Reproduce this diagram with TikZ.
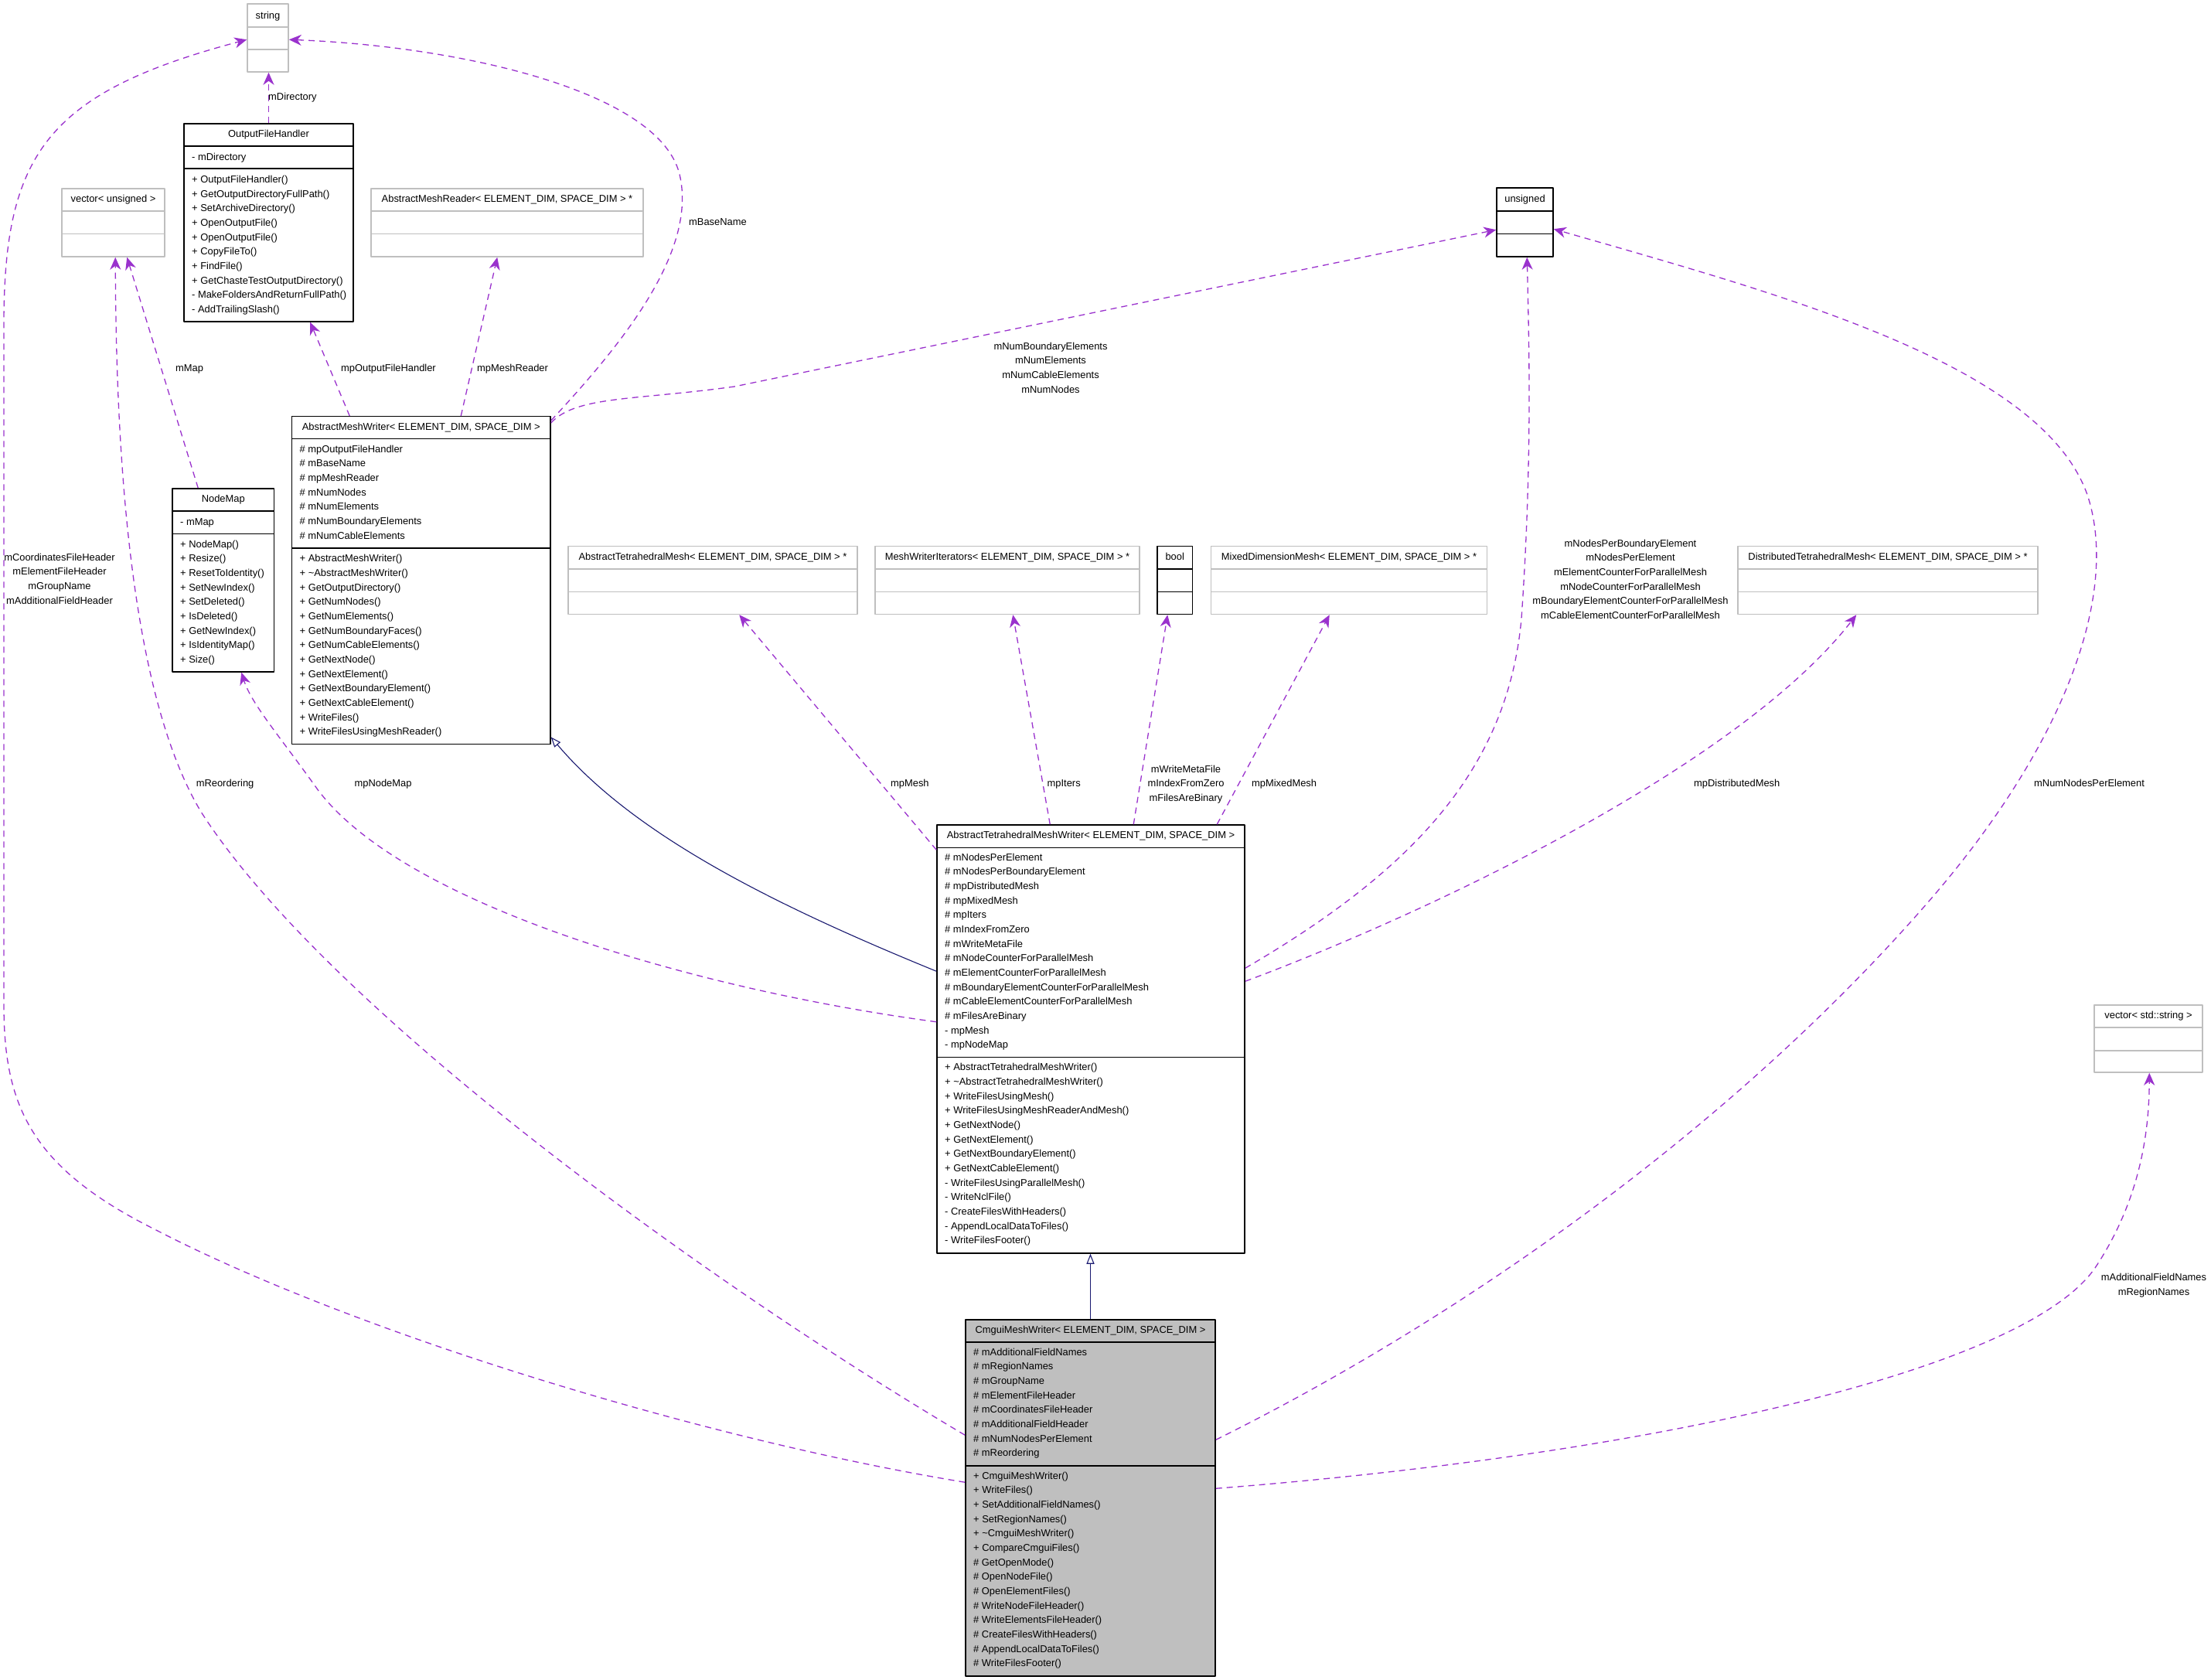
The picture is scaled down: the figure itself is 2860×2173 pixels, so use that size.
\documentclass[tikz,border=0pt]{standalone}
\usepackage{fontspec}
\setmainfont{Liberation Sans}
\usetikzlibrary{arrows.meta,fit}
\definecolor{edgepurple}{HTML}{9A32CD}
\definecolor{inhblue}{HTML}{191970}
\definecolor{boxgray}{HTML}{BFBFBF}
\tikzset{
  every picture/.style={line join=round, >=Stealth},
  cls/.style={draw=black, fill=white, line width=1.5pt, inner sep=0pt},
  ext/.style={draw=boxgray, fill=white, line width=1.5pt, inner sep=0pt},
  focus/.style={draw=black, fill=boxgray, line width=1.5pt, inner sep=0pt},
  mtext/.style={inner sep=0pt, font=\fontsize{12.9}{18.67}\selectfont},
  uses/.style={edgepurple, line width=1.3pt, dash pattern=on 8pt off 6pt,
    -{Stealth[length=16pt,width=14pt,inset=5pt]}},
  isa/.style={inhblue, line width=1.1pt, -{Triangle[length=13pt,width=10pt,fill=white]}},
}
% box with two compartment lines
\newcommand{\classbox}[8]{%
  \node[#2, fit={(#3,#4) (#5,#6)}] (#1) {};
  \draw[#2, fill=none] (#1.west |- 0,#7) -- (#1.east |- 0,#7) (#1.west |- 0,#8) -- (#1.east |- 0,#8);}
% one line per member, first line centred at y=#3
\newcommand{\members}[4]{%
  \foreach \m [count=\k from 0] in {#4} {\node[mtext, anchor=base west] (#1\k) at (#2, {#3+4.5+18.67*\k}) {\m};}}
\newcommand{\centerlines}[4]{%
  \foreach \m [count=\k from 0] in {#4} {\node[mtext, anchor=base] (#1\k) at (#2, {#3+4.5+18.67*\k}) {\m};}}

\begin{document}
\begin{tikzpicture}[x=1pt, y=-1pt]
\useasboundingbox (0,0) rectangle (2860,2173);

% classes
\classbox{string}{ext}{320}{5}{373}{93}{35}{64}
\node[mtext, anchor=base] (stringt) at (string.north |- 0,24.5) {string};

\classbox{ofh}{cls}{238}{160}{457}{416}{189}{218}
\node[mtext, anchor=base] (ofht) at (ofh.north |- 0,177.5) {OutputFileHandler};
\members{ofha}{248}{203}{- mDirectory}
\members{ofhm}{248}{232}{+ OutputFileHandler(), + GetOutputDirectoryFullPath(), + SetArchiveDirectory(),
  + OpenOutputFile(), + OpenOutputFile(), + CopyFileTo(), + FindFile(), + GetChasteTestOutputDirectory(),
  - MakeFoldersAndReturnFullPath(), - AddTrailingSlash()}

\classbox{vecu}{ext}{80}{244}{213}{332}{273}{302.5}
\node[mtext, anchor=base] (vecut) at (vecu.north |- 0,261) {vector< unsigned >};

\classbox{amr}{ext}{480}{244}{832}{332}{273}{302.5}
\node[mtext, anchor=base] (amrt) at (amr.north |- 0,261) {AbstractMeshReader< ELEMENT\_DIM, SPACE\_DIM > *};

\classbox{unsigned}{cls}{1936}{243}{2009}{332}{273}{302.5}
\node[mtext, anchor=base] (unsignedt) at (unsigned.north |- 0,261) {unsigned};

\classbox{amw}{cls}{377.5}{538.7}{712}{962.7}{567.7}{709}
\node[mtext, anchor=base] (amwt) at (amw.north |- 0,556.2) {AbstractMeshWriter< ELEMENT\_DIM, SPACE\_DIM >};
\members{amwa}{387.5}{580.7}{\# mpOutputFileHandler, \# mBaseName, \# mpMeshReader, \# mNumNodes,
  \# mNumElements, \# mNumBoundaryElements, \# mNumCableElements}
\members{amwm}{387.5}{722.3}{+ AbstractMeshWriter(), + \textasciitilde AbstractMeshWriter(), + GetOutputDirectory(),
  + GetNumNodes(), + GetNumElements(), + GetNumBoundaryFaces(), + GetNumCableElements(), + GetNextNode(),
  + GetNextElement(), + GetNextBoundaryElement(), + GetNextCableElement(), + WriteFiles(),
  + WriteFilesUsingMeshReader()}

\classbox{nodemap}{cls}{223}{632}{354.5}{869}{661}{690.7}
\node[mtext, anchor=base] (nodemapt) at (nodemap.north |- 0,649.5) {NodeMap};
\members{nodemapa}{233}{674.7}{- mMap}
\members{nodemapm}{233}{703.7}{+ NodeMap(), + Resize(), + ResetToIdentity(), + SetNewIndex(), + SetDeleted(),
  + IsDeleted(), + GetNewIndex(), + IsIdentityMap(), + Size()}

\classbox{atm}{ext}{735}{706.5}{1109}{794.5}{736}{765.5}
\node[mtext, anchor=base] (atmt) at (atm.north |- 0,724.5) {AbstractTetrahedralMesh< ELEMENT\_DIM, SPACE\_DIM > *};
\classbox{mwi}{ext}{1132}{706.5}{1474}{794.5}{736}{765.5}
\node[mtext, anchor=base] (mwit) at (mwi.north |- 0,724.5) {MeshWriterIterators< ELEMENT\_DIM, SPACE\_DIM > *};
\classbox{bool}{cls}{1497}{706.5}{1542.5}{794.5}{736}{765.5}
\node[mtext, anchor=base] (boolt) at (bool.north |- 0,724.5) {bool};
\classbox{mdm}{ext}{1566.5}{706.5}{1923.5}{794.5}{736}{765.5}
\node[mtext, anchor=base] (mdmt) at (mdm.north |- 0,724.5) {MixedDimensionMesh< ELEMENT\_DIM, SPACE\_DIM > *};
\classbox{dtm}{ext}{2248}{706.5}{2636}{794.5}{736}{765.5}
\node[mtext, anchor=base] (dtmt) at (dtm.north |- 0,724.5) {DistributedTetrahedralMesh< ELEMENT\_DIM, SPACE\_DIM > *};

\classbox{atmw}{cls}{1212}{1067}{1610}{1621}{1096.3}{1367.6}
\node[mtext, anchor=base] (atmwt) at (atmw.north |- 0,1084) {AbstractTetrahedralMeshWriter< ELEMENT\_DIM, SPACE\_DIM >};
\members{atmwa}{1222}{1108.6}{\# mNodesPerElement, \# mNodesPerBoundaryElement, \# mpDistributedMesh,
  \# mpMixedMesh, \# mpIters, \# mIndexFromZero, \# mWriteMetaFile, \# mNodeCounterForParallelMesh,
  \# mElementCounterForParallelMesh, \# mBoundaryElementCounterForParallelMesh,
  \# mCableElementCounterForParallelMesh, \# mFilesAreBinary, - mpMesh, - mpNodeMap}
\members{atmwm}{1222}{1380.3}{+ AbstractTetrahedralMeshWriter(), + \textasciitilde AbstractTetrahedralMeshWriter(),
  + WriteFilesUsingMesh(), + WriteFilesUsingMeshReaderAndMesh(), + GetNextNode(), + GetNextElement(),
  + GetNextBoundaryElement(), + GetNextCableElement(), - WriteFilesUsingParallelMesh(), - WriteNclFile(),
  - CreateFilesWithHeaders(), - AppendLocalDataToFiles(), - WriteFilesFooter()}

\classbox{cmgui}{focus}{1249}{1707}{1572}{2168}{1736}{1896}
\node[mtext, anchor=base] (cmguit) at (cmgui.north |- 0,1724.5) {CmguiMeshWriter< ELEMENT\_DIM, SPACE\_DIM >};
\members{cmguia}{1259}{1748.7}{\# mAdditionalFieldNames, \# mRegionNames, \# mGroupName, \# mElementFileHeader,
  \# mCoordinatesFileHeader, \# mAdditionalFieldHeader, \# mNumNodesPerElement, \# mReordering}
\members{cmguim}{1259}{1908.7}{+ CmguiMeshWriter(), + WriteFiles(), + SetAdditionalFieldNames(), + SetRegionNames(),
  + \textasciitilde CmguiMeshWriter(), + CompareCmguiFiles(), \# GetOpenMode(), \# OpenNodeFile(),
  \# OpenElementFiles(), \# WriteNodeFileHeader(), \# WriteElementsFileHeader(), \# CreateFilesWithHeaders(),
  \# AppendLocalDataToFiles(), \# WriteFilesFooter()}

\classbox{vecs}{ext}{2709}{1300}{2849}{1387}{1329}{1359}
\node[mtext, anchor=base] (vecst) at (vecs.north |- 0,1317) {vector< std::string >};

% inheritance
\draw[isa] ([yshift=-190pt]atmw.north west) .. controls (1000,1170) and (820,1080) .. ([yshift=10pt]amw.south east);
\draw[isa] (cmgui.north) -- (cmgui.north |- atmw.south);

% usage relations
\draw[uses] (ofh.north) -- (ofh.north |- string.south);
\draw[uses] ([yshift=-6pt]amw.north east) .. controls (800,450) and (900,330) .. (880,230)
  .. controls (860,120) and (600,60) .. ([yshift=-47pt]string.north east);
\draw[uses] ([yshift=-9pt]amw.north east) .. controls (745,512) and (820,518) .. (950,500)
  -- ([yshift=-55pt]unsigned.north west);
\draw[uses] ([xshift=75.5pt]amw.north west) -- ([xshift=164pt]ofh.south west);
\draw[uses] ([xshift=219.5pt]amw.north west) -- ([xshift=164pt]amr.south west);
\draw[uses] ([xshift=34pt]nodemap.north west) -- ([xshift=85pt]vecu.south west);
\draw[uses] ([yshift=-150pt]cmgui.north west) .. controls (900,1650) and (420,1300) .. (260,1050)
  .. controls (170,900) and (150,600) .. ([xshift=70pt]vecu.south west);
\draw[uses] ([yshift=-255.5pt]atmw.north west) .. controls (900,1280) and (520,1170) .. (410,1020)
  .. controls (360,950) and (325,910) .. ([xshift=90pt]nodemap.south west);
\draw[uses] ([yshift=-33pt]atmw.north west) -- ([xshift=222pt]atm.south west);
\draw[uses] ([xshift=147pt]atmw.north west) -- ([xshift=179pt]mwi.south west);
\draw[uses] ([xshift=255pt]atmw.north west) -- ([xshift=14pt]bool.south west);
\draw[uses] ([xshift=363pt]atmw.north west) -- ([xshift=154pt]mdm.south west);
\draw[uses] ([yshift=-186pt]atmw.north east) .. controls (1820,1130) and (1950,1000) .. (1968,800)
  .. controls (1982,600) and (1978,450) .. ([xshift=40pt]unsigned.south west);
\draw[uses] ([yshift=-203pt]atmw.north east) .. controls (1850,1180) and (2250,990) .. ([xshift=154pt]dtm.south west);
\draw[uses] ([yshift=-156pt]cmgui.north east) .. controls (1900,1700) and (2250,1450) .. (2500,1160)
  .. controls (2680,950) and (2740,760) .. (2700,640)
  .. controls (2640,470) and (2300,380) .. ([yshift=-54pt]unsigned.north east);
\draw[uses] ([yshift=-219pt]cmgui.north east) .. controls (2150,1880) and (2620,1770) .. (2710,1640)
  .. controls (2770,1550) and (2780,1460) .. ([xshift=72pt]vecs.south west);
\draw[uses] ([yshift=-211pt]cmgui.north west) .. controls (900,1860) and (450,1720) .. (200,1590)
  .. controls (40,1510) and (5,1430) .. (5,1300) -- (5,420)
  .. controls (5,200) and (60,120) .. ([yshift=-47pt]string.north west);

% edge labels
\members{ldir}{347}{125}{mDirectory}
\members{lbase}{891}{287}{mBaseName}
\members{lmap}{227}{476}{mMap}
\members{lofh}{441}{476}{mpOutputFileHandler}
\members{lreader}{617}{476}{mpMeshReader}
\centerlines{lnum}{1359}{447.5}{mNumBoundaryElements, mNumElements, mNumCableElements, mNumNodes}
\centerlines{lhead}{77}{720.7}{mCoordinatesFileHeader, mElementFileHeader, mGroupName, mAdditionalFieldHeader}
\members{lreord}{253.6}{1012.7}{mReordering}
\members{lnmap}{458.4}{1012.7}{mpNodeMap}
\members{lmesh}{1152}{1013}{mpMesh}
\members{liters}{1354.5}{1013}{mpIters}
\centerlines{lbool}{1534}{994.6}{mWriteMetaFile, mIndexFromZero, mFilesAreBinary}
\members{lmixed}{1619}{1013}{mpMixedMesh}
\centerlines{lcount}{2109}{702.6}{mNodesPerBoundaryElement, mNodesPerElement, mElementCounterForParallelMesh,
  mNodeCounterForParallelMesh, mBoundaryElementCounterForParallelMesh, mCableElementCounterForParallelMesh}
\members{ldist}{2191}{1013}{mpDistributedMesh}
\members{lnpe}{2631}{1013}{mNumNodesPerElement}
\centerlines{lnames}{2786}{1652}{mAdditionalFieldNames, mRegionNames}
\end{tikzpicture}
\end{document}
